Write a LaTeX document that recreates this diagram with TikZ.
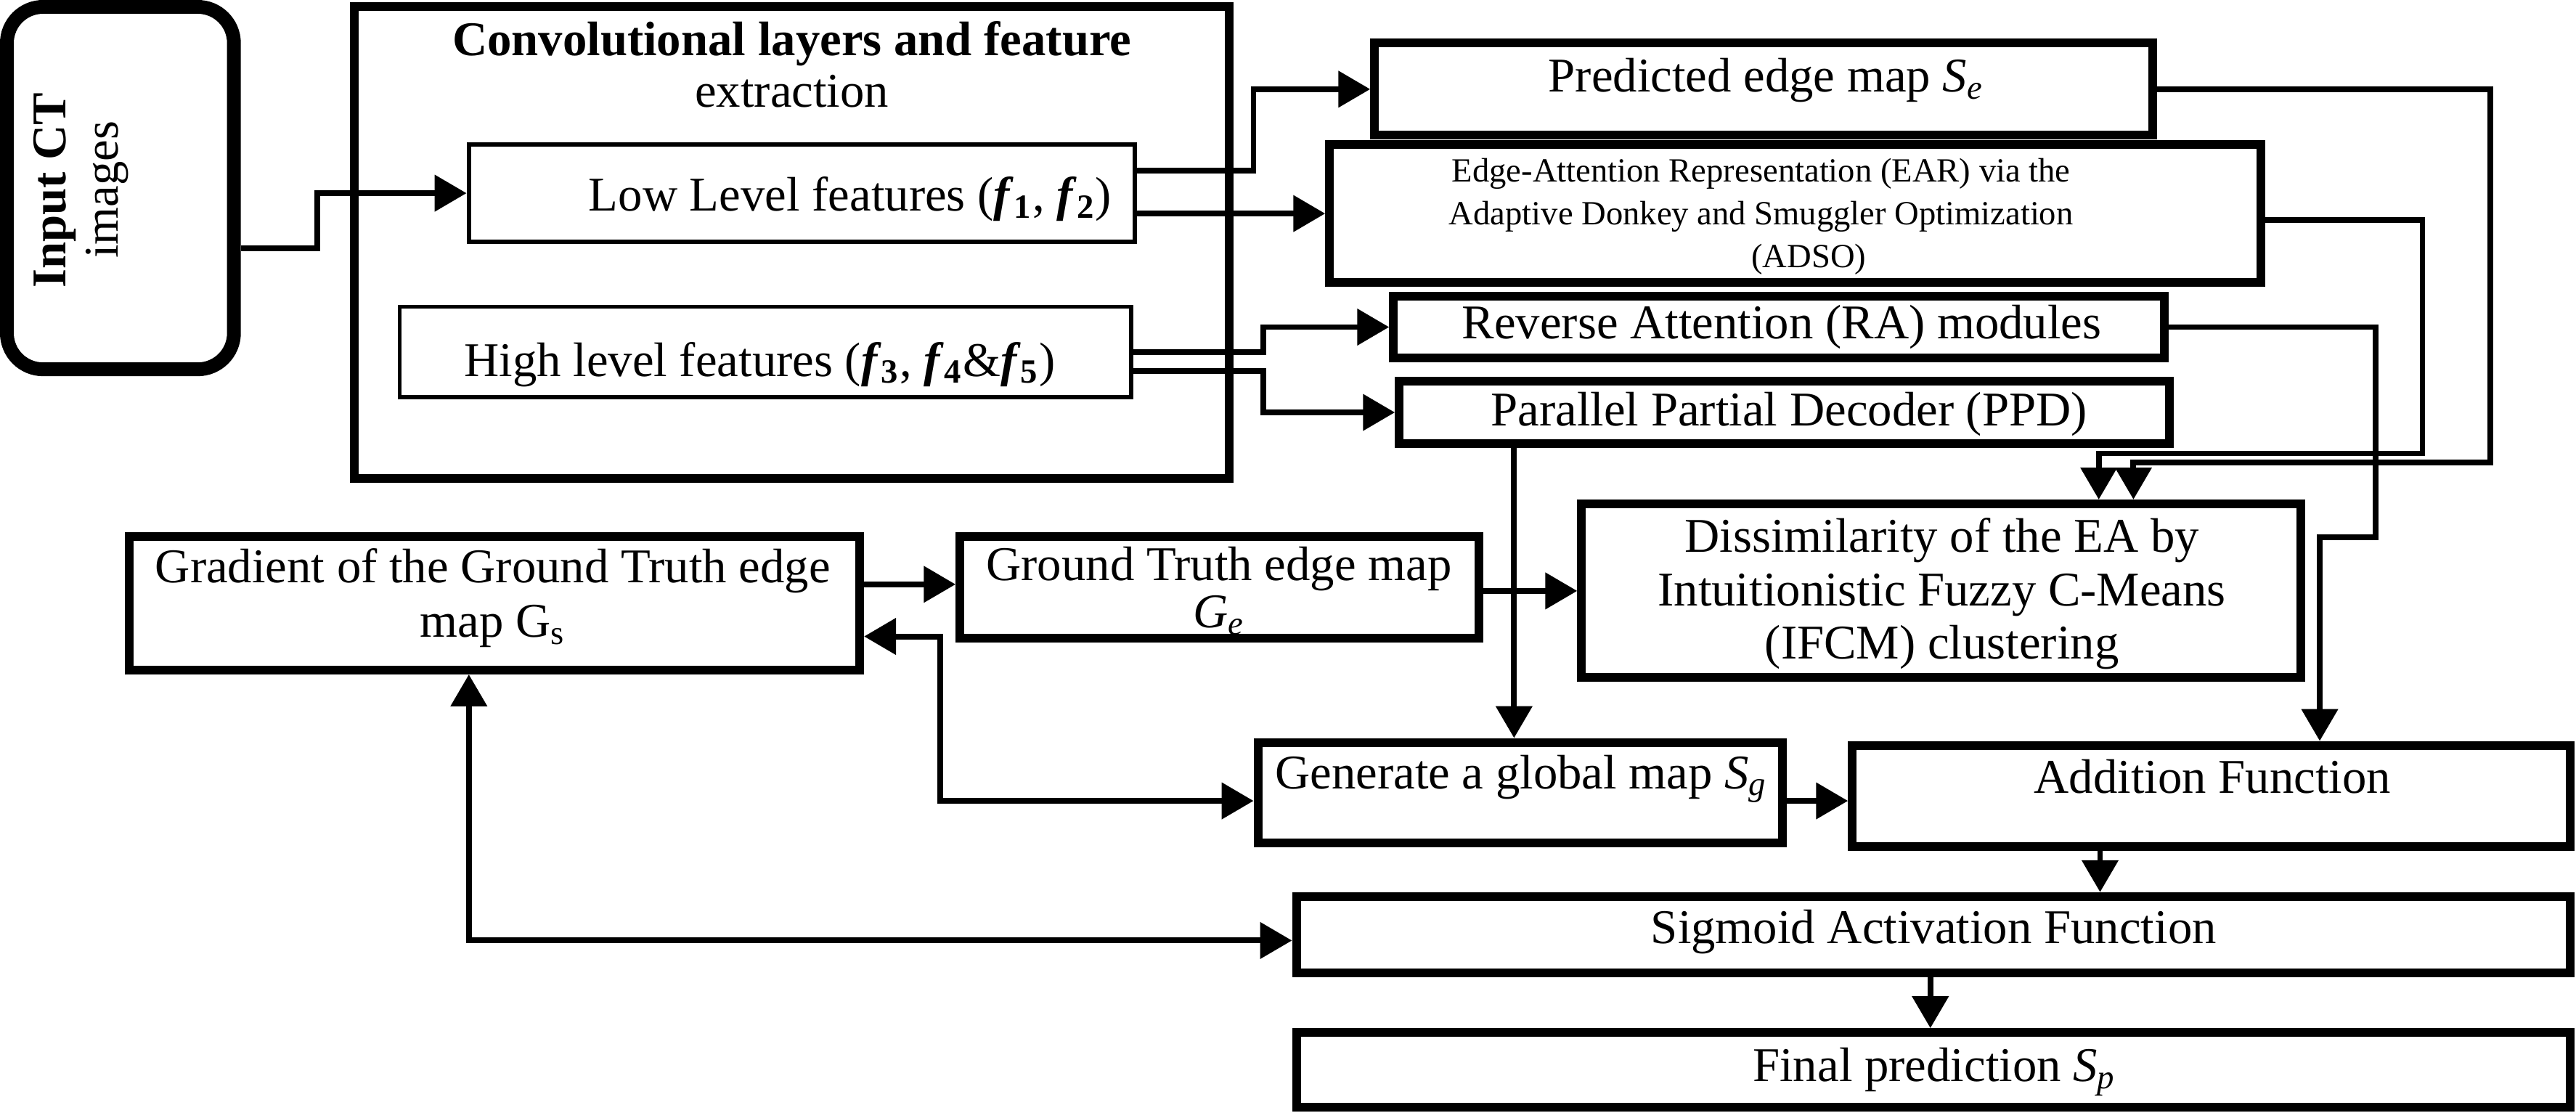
\documentclass[tikz,border=0pt]{standalone}
\usepackage{fontspec}
\setmainfont{Liberation Serif}
\usetikzlibrary{arrows.meta,fit}
\newcommand\fs{\fontsize{14.75pt}{17pt}\selectfont}
\newcommand\fsm{\fontsize{10.3pt}{12pt}\selectfont}
\newcommand\sbx[1]{\textsubscript{#1}}
\newcommand\bff[1]{\textbf{\textit{f}}\textsubscript{\textbf{#1}}}
\begin{document}
\begin{tikzpicture}[x=0.5pt,y=-0.5pt,
  box/.style={draw, line width=2.65pt, inner sep=0pt},
  thinbox/.style={draw, line width=1.3pt, inner sep=0pt},
  conn/.style={line width=1.75pt},
  arr/.style={conn, -{Triangle[length=9.7pt,width=10.8pt]}},
  darr/.style={conn, {Triangle[length=9.7pt,width=10.8pt]}-{Triangle[length=9.7pt,width=10.8pt]}},
  txt/.style={inner sep=0pt, anchor=base, font=\fs},
  smalltxt/.style={inner sep=0pt, anchor=base, font=\fsm}]
\useasboundingbox (0,0) rectangle (1568,677.5);

% boxes
\node[draw, line width=4.2pt, rounded corners=11pt, inner sep=0pt, fit={(4.2,4.2) (142.4,224.8)}] (input) {};
\node[box, fit={(215.6,4.2) (748.4,291.4)}] (conv) {};
\node[thinbox, fit={(285.3,88.1) (690.7,147.1)}] (low) {};
\node[thinbox, fit={(243.3,186.7) (688.7,241.7)}] (high) {};
\node[box, fit={(836.7,26.3) (1310.3,82.3)}] (pred) {};
\node[box, fit={(809.3,88.1) (1376.3,171.9)}] (ear) {};
\node[box, fit={(848.2,180.3) (1317.3,217.9)}] (ra) {};
\node[box, fit={(851.7,232.1) (1320.3,270)}] (ppd) {};
\node[box, fit={(962.7,306.7) (1400.3,412.3)}] (dis) {};
\node[box, fit={(78.7,326.7) (523.3,407.9)}] (grad) {};
\node[box, fit={(584.3,326.7) (900,388.3)}] (gt) {};
\node[box, fit={(765.7,451.9) (1084.9,513.3)}] (gen) {};
\node[box, fit={(1127.5,453.7) (1564.3,515.5)}] (add) {};
\node[box, fit={(789.1,545.7) (1564.3,592.1)}] (sig) {};
\node[box, fit={(789.1,628.5) (1564.3,673.8)}] (fin) {};

% texts
\node[txt, rotate=90, font=\fs\bfseries] (tin1) at (39.8,116) {Input CT};
\node[txt, rotate=90] (tin2) at (72,115.5) {images};
\node[txt, font=\fs\bfseries] (tconv1) at (482,33.6) {Convolutional layers and feature};
\node[txt] (tconv2) at (482,65) {extraction};
\node[txt] (tlow) at (517.5,128.6) {Low Level features (\bff{1}, \bff{2})};
\node[txt] (thigh) at (462.5,229) {High level features (\bff{3}, \bff{4}\&\bff{5})};
\node[txt] (tpred) at (1075,56) {Predicted edge map \textit{S}\sbx{\textit{e}}};
\node[smalltxt] (tear1) at (1072,110.9) {Edge-Attention Representation (EAR) via the};
\node[smalltxt] (tear2) at (1072,137) {Adaptive Donkey and Smuggler Optimization};
\node[smalltxt] (tear3) at (1101,162.8) {(ADSO)};
\node[txt] (tra) at (1084.5,206.2) {Reverse Attention (RA) modules};
\node[txt] (tppd) at (1089,259.4) {Parallel Partial Decoder (PPD)};
\node[txt] (tdis1) at (1182,336) {Dissimilarity of the EA by};
\node[txt] (tdis2) at (1182,368.6) {Intuitionistic Fuzzy C-Means};
\node[txt] (tdis3) at (1182,401) {(IFCM) clustering};
\node[txt] (tgrad1) at (300,354.5) {Gradient of the Ground Truth edge};
\node[txt] (tgrad2) at (300,388) {map G\sbx{s}};
\node[txt] (tgt1) at (742,353.5) {Ground Truth edge map};
\node[txt] (tgt2) at (742,382) {\textit{G}\sbx{\textit{e}}};
\node[txt] (tgen) at (926,480) {Generate a global map \textit{S}\sbx{\textit{g}}};
\node[txt] (tadd) at (1346.7,482.6) {Addition Function};
\node[txt] (tsig) at (1177,574.5) {Sigmoid Activation Function};
\node[txt] (tfin) at (1177.5,658.3) {Final prediction \textit{S}\sbx{\textit{p}}};

% connectors
\draw[arr] (input.east |- 0,151) -- (193,151) |- (low.west);
\draw[arr] (low.east |- 0,104) -- (763,104) |- (pred.west);
\draw[arr] (low.east |- ear.west) -- (ear.west);
\draw[arr] (high.east |- 0,214.5) -- (769,214.5) |- (ra.west);
\draw[arr] (high.east |- 0,226) -- (769,226) |- (ppd.west);
\draw[arr] (pred.east) -| (1516,281.6) -| (1298.6,0 |- dis.north);
\draw[arr] (ear.east |- 0,134) -| (1474.5,276) -| (1277.5,0 |- dis.north);
\draw[arr] (ra.east) -| (1446,327) -| (1412,0 |- add.north);
\draw[arr] (921.6,0 |- ppd.south) -- (921.6,0 |- gen.north);
\draw[arr] (grad.east |- 0,355.7) -- (gt.west |- 0,355.7);
\draw[arr] (gt.east |- 0,359.7) -- (dis.west |- 0,359.7);
\draw[darr] (grad.east |- 0,387.4) -| (572.3,487.5) -- (gen.west |- 0,487.5);
\draw[arr] (gen.east |- 0,487.5) -- (add.west |- 0,487.5);
\draw[darr] (285.4,0 |- grad.south) |- (sig.west |- 0,572.5);
\draw[arr] (1278.3,0 |- add.south) -- (1278.3,0 |- sig.north);
\draw[arr] (1175,0 |- sig.south) -- (1175,0 |- fin.north);
\end{tikzpicture}
\end{document}
